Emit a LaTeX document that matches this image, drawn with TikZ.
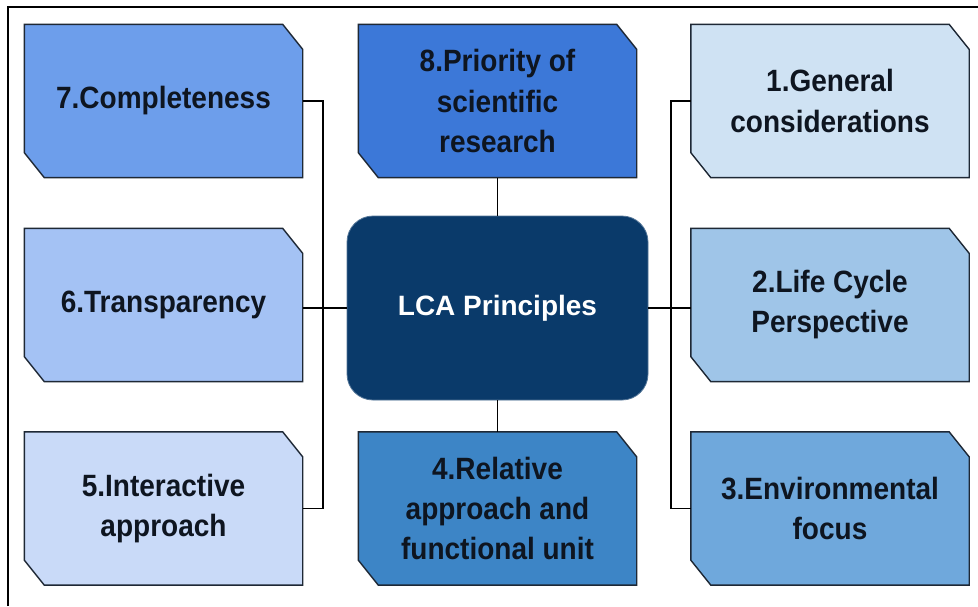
\documentclass[tikz,border=0pt]{standalone}
\usepackage{fontspec}
\setmainfont{Liberation Sans}
\usetikzlibrary{backgrounds}
\definecolor{c7}{HTML}{6D9EEB}
\definecolor{c8}{HTML}{3C78D8}
\definecolor{c1}{HTML}{CFE2F3}
\definecolor{c6}{HTML}{A4C2F4}
\definecolor{c2}{HTML}{9FC5E8}
\definecolor{c5}{HTML}{C9DAF8}
\definecolor{c4}{HTML}{3D85C6}
\definecolor{c3}{HTML}{6FA8DC}
\definecolor{ccenter}{HTML}{0A3A6A}
\definecolor{cedge}{HTML}{1E2835}
\definecolor{ctext}{HTML}{0E1520}
\tikzset{
  pbox/.style={rectangle, yscale=1.1, minimum width=278pt, minimum height=139pt, inner sep=0pt,
    align=center, text=ctext, font=\fontsize{28}{36.4}\selectfont\bfseries},
  centerbox/.style={rectangle, rounded corners=26pt, minimum width=301pt, minimum height=184pt,
    fill=ccenter, draw=ccenter!70!white, line width=0.8pt, text=white,
    font=\fontsize{28}{40}\selectfont\bfseries},
  boxline/.style={draw=cedge, line width=1.4pt, line join=miter},
  conn/.style={draw=black, line width=1.3pt},
  frame/.style={draw=black, line width=1.5pt}
}
\newcommand\chambox[2]{%
  \begin{pgfonlayer}{background}
  \path[boxline, fill=#2] (#1.north west) -- ([xshift=-20pt]#1.north east)
     -- ([yshift=-25pt]#1.north east) -- (#1.south east)
     -- ([xshift=20pt]#1.south west) -- ([yshift=25pt]#1.south west) -- cycle;
  \end{pgfonlayer}}
\begin{document}
\begin{tikzpicture}[x=1pt, y=-1pt]
\useasboundingbox (0,0) rectangle (978,606);
\begin{pgfonlayer}{background}
\fill[white] (0,0) rectangle (978,606);
\end{pgfonlayer}
\coordinate (f1) at (8,606);
\coordinate (f2) at (8,7);
\coordinate (f3) at (978,7);
\draw[frame] (f1) -- (f2) -- (f3);

\node[pbox] (b7) at (163.5,101) {7.Completeness};
\node[pbox] (b8) at (497.5,101) {8.Priority of\\scientific\\research};
\node[pbox] (b1) at (830,101) {1.General\\considerations};
\node[pbox] (b6) at (163.5,305) {6.Transparency};
\node[pbox] (b2) at (830,305) {2.Life Cycle\\Perspective};
\node[pbox] (b5) at (163.5,508.5) {5.Interactive\\approach};
\node[pbox] (b4) at (497.5,508.5) {4.Relative\\approach and\\functional unit};
\node[pbox] (b3) at (830,508.5) {3.Environmental\\focus};
\node[centerbox] (c) at (497.5,308) {LCA Principles};

\chambox{b7}{c7}
\chambox{b8}{c8}
\chambox{b1}{c1}
\chambox{b6}{c6}
\chambox{b2}{c2}
\chambox{b5}{c5}
\chambox{b4}{c4}
\chambox{b3}{c3}

\coordinate (jl) at (323,308);
\coordinate (jr) at (671,308);
\draw[conn] (b7.east) -| (jl) |- (b5.east);
\draw[conn] (c.west) -- (c.west -| b6.east);
\draw[conn] (b1.west) -| (jr) |- (b3.west);
\draw[conn] (c.east) -- (c.east -| b2.west);
\draw[conn] (b8.south) -- (c.north);
\draw[conn] (c.south) -- (b4.north);
\end{tikzpicture}
\end{document}
